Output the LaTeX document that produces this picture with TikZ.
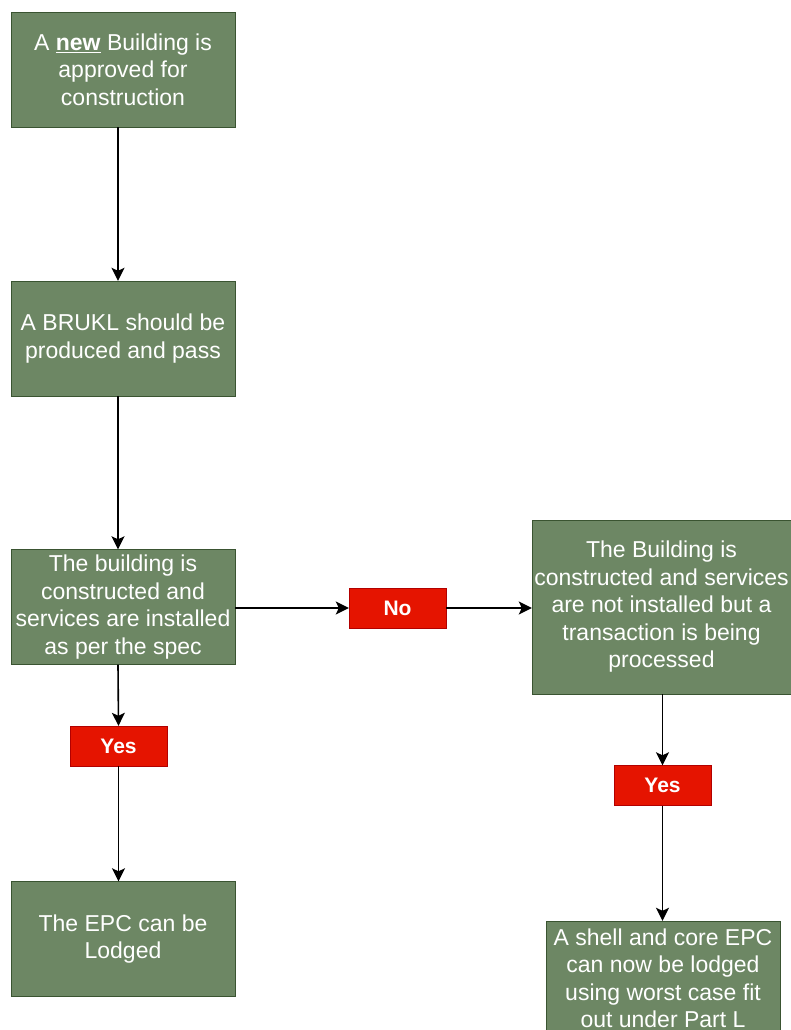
\documentclass[tikz,border=0pt]{standalone}
\usepackage{fontspec}
\setmainfont{Liberation Sans}
\usetikzlibrary{arrows.meta}
\definecolor{gfill}{HTML}{6D8764}
\definecolor{gdraw}{HTML}{3A5431}
\definecolor{rfill}{HTML}{E51400}
\definecolor{rdraw}{HTML}{B20000}
\begin{document}
\begin{tikzpicture}[x=1pt,y=-1pt,
  greenbox/.style={draw=gdraw, fill=gfill, text=white, minimum width=224pt, minimum height=115pt,
    inner sep=0pt, align=center, font=\fontsize{23}{27.5}\selectfont},
  redbox/.style={draw=rdraw, fill=rfill, text=white, minimum width=97pt, minimum height=40pt,
    inner sep=0pt, font=\fontsize{21}{25}\selectfont\bfseries},
  arr/.style={line width=1.6pt, -{Stealth[length=13pt,width=13pt,inset=3pt]}}]
\useasboundingbox (0,0) rectangle (791,1030);
\fill[white] (0,0) rectangle (791,1030);

\node[greenbox] (b1) at (123,69.5) {A \underline{\textbf{new}} Building is\\approved for\\construction};
\node[greenbox] (b2) at (123,338.5) {A BRUKL should be\\produced and pass};
\node[greenbox] (b3) at (123,607) {The building is\\constructed and\\services are installed\\as per the spec};
\node[redbox] (no) at (397.5,608) {No};
\node[greenbox, minimum width=259pt, minimum height=174pt] (b4) at (661.5,607)
  {The Building is\\constructed and services\\are not installed but a\\transaction is being\\processed};
\node[redbox] (yl) at (118.5,746) {Yes};
\node[redbox] (yr) at (662.5,785.5) {Yes};
\node[greenbox] (b5) at (123,939) {The EPC can be\\Lodged};
\node[greenbox, minimum width=234pt] (b6) at (663,978.5)
  {A shell and core EPC\\can now be lodged\\using worst case fit\\out under Part L};

\draw[arr] ([xshift=-5pt]b1.south) -- ([xshift=-5pt]b2.north);
\draw[arr] ([xshift=-5pt]b2.south) -- ([xshift=-5pt]b3.north);
\draw[arr] ([xshift=-5pt]b3.south) -- (yl.north);
\draw[arr] (yl.south) -- (yl.south |- b5.north);
\draw[arr] (b3.east |- no.west) -- (no.west);
\draw[arr] (no.east) -- (b4.west |- no.east);
\draw[arr] (b4.south -| yr.north) -- (yr.north);
\draw[arr] (yr.south) -- (yr.south |- b6.north);
\end{tikzpicture}
\end{document}
